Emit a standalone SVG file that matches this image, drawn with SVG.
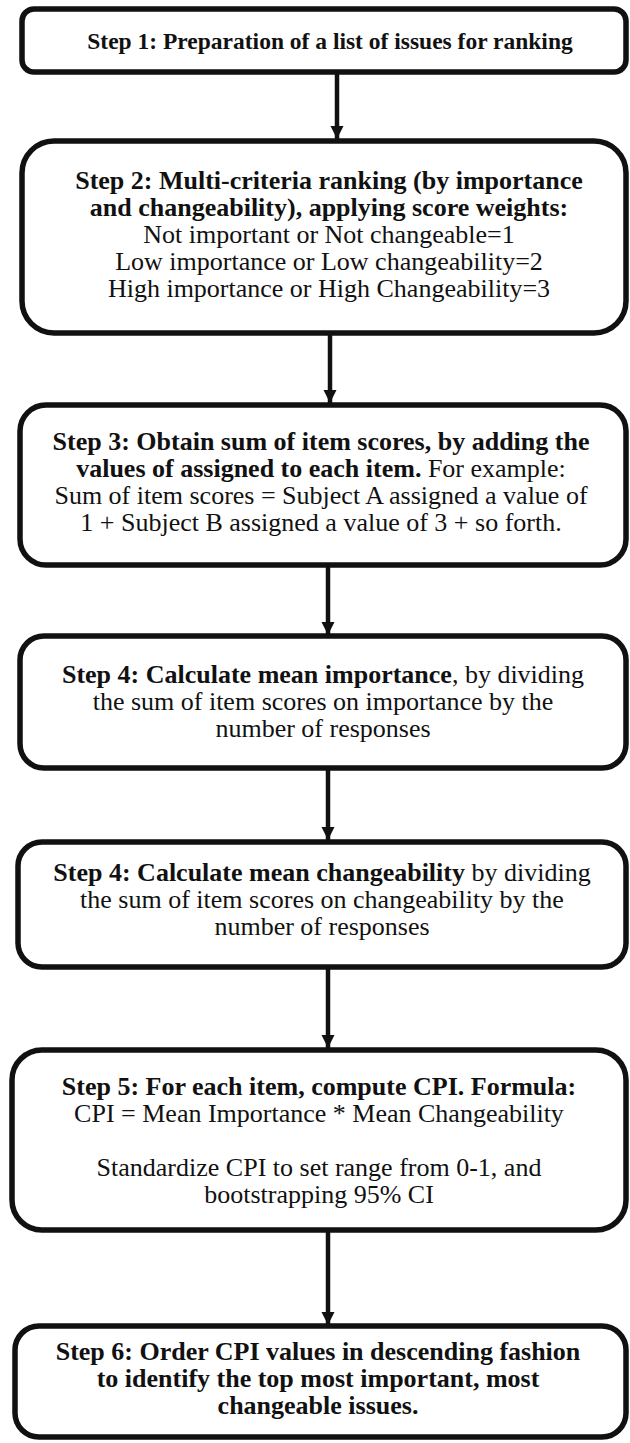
<svg xmlns="http://www.w3.org/2000/svg" width="630" height="1443" viewBox="0 0 630 1443">
<defs>
<marker id="ah" viewBox="0 0 10 10" refX="10" refY="5" markerWidth="3" markerHeight="3.4" orient="auto" markerUnits="strokeWidth">
<path d="M0,0 L10,5 L0,10 Z" fill="#111"/>
</marker>
<style>
.box{fill:#fff;stroke:#111;stroke-width:5.5}
.t{font-family:'Liberation Serif',serif;font-size:26px;fill:#111;text-anchor:middle}
.b{font-weight:bold}
.c{stroke:#111;stroke-width:4.5;fill:none;marker-end:url(#ah)}
</style>
</defs>
<rect width="630" height="1443" fill="#fff"/>
<g id="connectors">
<line class="c" x1="337" y1="72" x2="337" y2="139"/>
<line class="c" x1="330" y1="333" x2="330" y2="403"/>
<line class="c" x1="328" y1="565" x2="328" y2="635"/>
<line class="c" x1="328" y1="768" x2="328" y2="840"/>
<line class="c" x1="328" y1="967" x2="328" y2="1048"/>
<line class="c" x1="328" y1="1230" x2="328" y2="1325"/>
</g>
<g font-family="Liberation Serif, serif">
<g id="step1">
<rect class="box" x="22" y="9" width="604" height="63" rx="12"/>
<text class="t b" x="330" y="49" style="font-size:23.5px">Step 1: Preparation of a list of issues for ranking</text>
</g>
<g id="step2">
<rect class="box" x="22" y="141" width="604" height="192" rx="32"/>
<text class="t b" x="329" y="189">Step 2: Multi-criteria ranking (by importance</text>
<text class="t b" x="329" y="216">and changeability), applying score weights:</text>
<text class="t" x="329" y="243">Not important or Not changeable=1</text>
<text class="t" x="329" y="270">Low importance or Low changeability=2</text>
<text class="t" x="329" y="297">High importance or High Changeability=3</text>
</g>
<g id="step3">
<rect class="box" x="20" y="405" width="606" height="160" rx="26"/>
<text class="t" x="321" y="450"><tspan class="b">Step 3: Obtain sum of item scores, by adding the</tspan></text>
<text class="t" x="321" y="477"><tspan class="b">values of assigned to each item.</tspan> For example:</text>
<text class="t" x="321" y="504">Sum of item scores = Subject A assigned a value of</text>
<text class="t" x="321" y="531">1 + Subject B assigned a value of 3 + so forth.</text>
</g>
<g id="step4a">
<rect class="box" x="20" y="636" width="606" height="132" rx="24"/>
<text class="t" x="323" y="683"><tspan class="b">Step 4: Calculate mean importance</tspan>, by dividing</text>
<text class="t" x="323" y="710">the sum of item scores on importance by the</text>
<text class="t" x="323" y="737">number of responses</text>
</g>
<g id="step4b">
<rect class="box" x="18" y="842" width="608" height="125" rx="24"/>
<text class="t" x="322" y="881"><tspan class="b">Step 4: Calculate mean changeability</tspan> by dividing</text>
<text class="t" x="322" y="908">the sum of item scores on changeability by the</text>
<text class="t" x="322" y="935">number of responses</text>
</g>
<g id="step5">
<rect class="box" x="12" y="1050" width="614" height="180" rx="30"/>
<text class="t" x="319" y="1095"><tspan class="b">Step 5: For each item, compute CPI. Formula:</tspan></text>
<text class="t" x="319" y="1122">CPI = Mean Importance * Mean Changeability</text>
<text class="t" x="319" y="1176">Standardize CPI to set range from 0-1, and</text>
<text class="t" x="319" y="1203">bootstrapping 95% CI</text>
</g>
<g id="step6">
<rect class="box" x="15" y="1326" width="611" height="111" rx="24"/>
<text class="t b" x="318" y="1360">Step 6: Order CPI values in descending fashion</text>
<text class="t b" x="318" y="1387">to identify the top most important, most</text>
<text class="t b" x="318" y="1414">changeable issues.</text>
</g>
</g>
</svg>
